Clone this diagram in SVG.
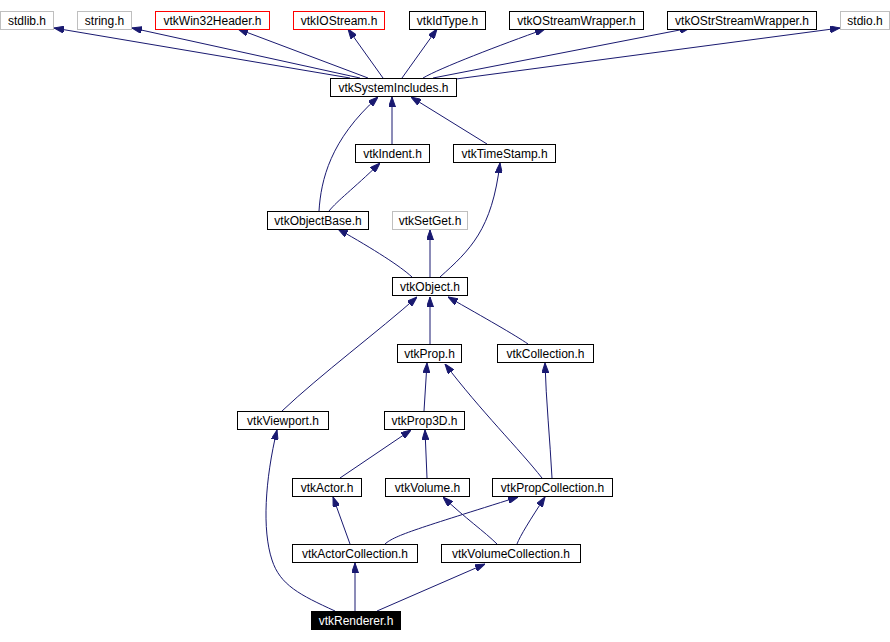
<svg xmlns="http://www.w3.org/2000/svg" width="890" height="642" viewBox="0 0 890 642">
<style>
.n rect{fill:#fff;stroke:#000;stroke-width:1}
.n text{font-family:"Liberation Sans",Arial,sans-serif;font-size:12px;text-anchor:middle;fill:#000}
.g rect{stroke:#bfbfbf}
.r rect{stroke:#ff0000}
.sel rect{fill:#000;stroke:#000}
.sel text{fill:#fff}
#edges path{fill:none;stroke:#191970;stroke-width:1;marker-end:url(#ah)}
</style>
<defs>
<marker id="ah" viewBox="0 0 10 7" refX="10" refY="3.5" markerWidth="10" markerHeight="7" markerUnits="userSpaceOnUse" orient="auto">
<path d="M0,0 L10,3.5 L0,7 z" fill="#191970" stroke="#191970"/>
</marker>
</defs>
<rect width="890" height="642" fill="#fff"/>
<g id="edges">
<path d="M350,78 L54,28"/>
<path d="M360,78 L132,28"/>
<path d="M368,78 L238,29"/>
<path d="M383,78 L348,29"/>
<path d="M402,78 L437,29"/>
<path d="M423,78 C440,68 500,45 545,29"/>
<path d="M433,78 L690,28"/>
<path d="M456,79 L840,28"/>
<path d="M392,144 L392,97"/>
<path d="M487,144 L411,97"/>
<path d="M319,211 C321,180 330,140 378,97"/>
<path d="M329,211 C338,200 352,190 380,163"/>
<path d="M412,277 C400,266 375,250 338,229"/>
<path d="M430,277 L430,230"/>
<path d="M440,277 C470,250 492,230 500,163"/>
<path d="M430,344 L430,297"/>
<path d="M528,344 C515,335 485,318 448,297"/>
<path d="M282,411 C320,375 380,330 417,297"/>
<path d="M424,411 L427,363"/>
<path d="M542,478 C520,450 480,410 445,364"/>
<path d="M552,478 C550,440 546,400 545,363"/>
<path d="M340,478 L411,430"/>
<path d="M427,478 L425,430"/>
<path d="M350,544 L333,497"/>
<path d="M385,544 C395,535 420,528 518,497"/>
<path d="M497,544 C485,532 465,518 443,497"/>
<path d="M517,544 C520,536 530,520 545,497"/>
<path d="M335,611 C300,595 280,585 272,560 C262,530 265,480 277,430"/>
<path d="M355,611 L355,563"/>
<path d="M377,611 L485,564"/>
</g>
<g id="stdlib" class="n g"><rect x="0.5" y="11.5" width="53" height="18"/><text x="27" y="25">stdlib.h</text></g>
<g id="string" class="n g"><rect x="77.5" y="11.5" width="54" height="18"/><text x="104.5" y="25">string.h</text></g>
<g id="vtkWin32Header" class="n r"><rect x="155.5" y="11.5" width="114" height="18"/><text x="212.5" y="25">vtkWin32Header.h</text></g>
<g id="vtkIOStream" class="n r"><rect x="293.5" y="11.5" width="91" height="18"/><text x="339" y="25">vtkIOStream.h</text></g>
<g id="vtkIdType" class="n"><rect x="409.5" y="11.5" width="76" height="18"/><text x="447.5" y="25">vtkIdType.h</text></g>
<g id="vtkOStreamWrapper" class="n"><rect x="509.5" y="11.5" width="134" height="18"/><text x="576.5" y="25">vtkOStreamWrapper.h</text></g>
<g id="vtkOStrStreamWrapper" class="n"><rect x="667.5" y="11.5" width="149" height="18"/><text x="742" y="25">vtkOStrStreamWrapper.h</text></g>
<g id="stdio" class="n g"><rect x="840.5" y="11.5" width="49" height="18"/><text x="865" y="25">stdio.h</text></g>
<g id="vtkSystemIncludes" class="n"><rect x="330.5" y="78.5" width="126" height="18"/><text x="393.5" y="92">vtkSystemIncludes.h</text></g>
<g id="vtkIndent" class="n"><rect x="355.5" y="144.5" width="74" height="18"/><text x="392.5" y="158">vtkIndent.h</text></g>
<g id="vtkTimeStamp" class="n"><rect x="453.5" y="144.5" width="102" height="18"/><text x="504.5" y="158">vtkTimeStamp.h</text></g>
<g id="vtkObjectBase" class="n"><rect x="267.5" y="211.5" width="101" height="18"/><text x="318" y="225">vtkObjectBase.h</text></g>
<g id="vtkSetGet" class="n g"><rect x="392.5" y="211.5" width="75" height="18"/><text x="430" y="225">vtkSetGet.h</text></g>
<g id="vtkObject" class="n"><rect x="392.5" y="277.5" width="75" height="18"/><text x="430" y="291">vtkObject.h</text></g>
<g id="vtkProp" class="n"><rect x="397.5" y="344.5" width="64" height="18"/><text x="429.5" y="358">vtkProp.h</text></g>
<g id="vtkCollection" class="n"><rect x="497.5" y="344.5" width="96" height="18"/><text x="545.5" y="358">vtkCollection.h</text></g>
<g id="vtkViewport" class="n"><rect x="237.5" y="411.5" width="91" height="18"/><text x="283" y="425">vtkViewport.h</text></g>
<g id="vtkProp3D" class="n"><rect x="384.5" y="411.5" width="80" height="18"/><text x="424.5" y="425">vtkProp3D.h</text></g>
<g id="vtkActor" class="n"><rect x="292.5" y="478.5" width="69" height="18"/><text x="327" y="492">vtkActor.h</text></g>
<g id="vtkVolume" class="n"><rect x="385.5" y="478.5" width="84" height="18"/><text x="427.5" y="492">vtkVolume.h</text></g>
<g id="vtkPropCollection" class="n"><rect x="492.5" y="478.5" width="120" height="18"/><text x="552.5" y="492">vtkPropCollection.h</text></g>
<g id="vtkActorCollection" class="n"><rect x="292.5" y="544.5" width="125" height="18"/><text x="355" y="558">vtkActorCollection.h</text></g>
<g id="vtkVolumeCollection" class="n"><rect x="441.5" y="544.5" width="139" height="18"/><text x="511" y="558">vtkVolumeCollection.h</text></g>
<g id="vtkRenderer" class="n sel"><rect x="311.5" y="611.5" width="89" height="18"/><text x="356" y="625">vtkRenderer.h</text></g>
</svg>
